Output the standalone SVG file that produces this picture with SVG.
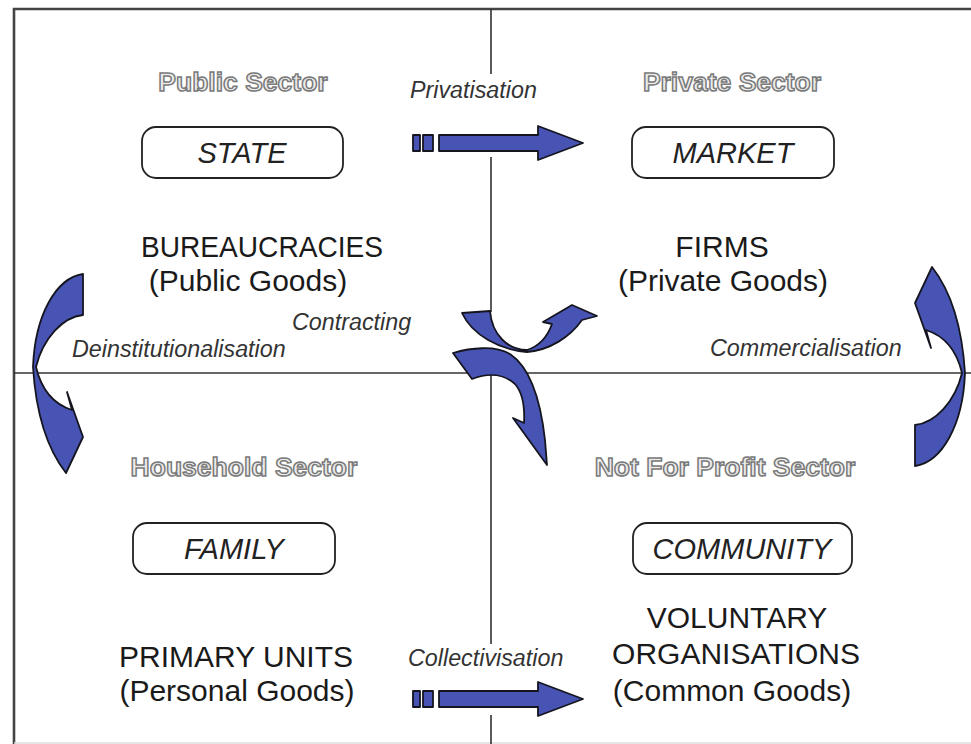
<svg xmlns="http://www.w3.org/2000/svg" xmlns:xlink="http://www.w3.org/1999/xlink" width="971" height="744" viewBox="0 0 971 744">
  <style>
    .frame { fill: none; stroke: #444; stroke-width: 2.6; }
    .axis { fill: none; stroke: #333; stroke-width: 1.6; }
    .sector { font-family: "Liberation Sans", Arial, sans-serif; font-weight: bold; font-size: 26.5px; fill: #ececec; stroke: #7a7a7a; stroke-width: 1.5; text-anchor: middle; }
    .box { fill: #fff; stroke: #222; stroke-width: 1.8; }
    .boxlabel { font-family: "Liberation Sans", Arial, sans-serif; font-style: italic; font-size: 29px; fill: #222; text-anchor: middle; }
    .label { font-family: "Liberation Sans", Arial, sans-serif; font-size: 30px; fill: #1a1a1a; text-anchor: middle; }
    .flow { font-family: "Liberation Sans", Arial, sans-serif; font-style: italic; font-size: 23.3px; fill: #333; }
    .arrow { fill: #4854b4; stroke: #15151f; stroke-width: 1.8; stroke-linejoin: round; }
  </style>
  <defs>
    <!-- straight block arrow with two tail ticks -->
    <g id="block-arrow">
      <rect class="arrow" x="0" y="0" width="7" height="16"/>
      <rect class="arrow" x="10" y="0" width="10" height="16"/>
      <path class="arrow" d="M26,0 H125 V-9 L170,8 L125,25 V16 H26 Z"/>
    </g>
    <!-- twisted ribbon arrow, tail at bottom, head at top -->
    <path id="ribbon-arrow" class="arrow" d="M915,425 C935,423 955,402 962,373 C957,352 945,336 926,330 L931,348 L915,303 L932,267 C950,290 962,325 965,373 C963,425 942,462 915,466 Z"/>
  </defs>

  <!-- frame and quadrant axes -->
  <g id="frame">
    <path class="frame" d="M14,744 V9 H971"/>
    <line x1="14" y1="743" x2="971" y2="743" stroke="#ddd" stroke-width="1.5"/>
  </g>
  <g id="axes">
    <line class="axis" x1="14" y1="373" x2="971" y2="373"/>
    <path class="axis" d="M491,9 V74 M491,157 V312 M491,375 V644 M491,715 V744"/>
  </g>

  <!-- quadrant: public sector -->
  <g id="public-sector">
    <text class="sector" x="243" y="91">Public Sector</text>
    <rect class="box" x="142" y="127" width="201" height="51" rx="14"/>
    <text class="boxlabel" x="242" y="163">STATE</text>
    <text class="label" x="262" y="257" textLength="242" lengthAdjust="spacingAndGlyphs">BUREAUCRACIES</text>
    <text class="label" x="248" y="291">(Public Goods)</text>
  </g>

  <!-- quadrant: private sector -->
  <g id="private-sector">
    <text class="sector" x="732" y="91">Private Sector</text>
    <rect class="box" x="632" y="127" width="202" height="51" rx="14"/>
    <text class="boxlabel" x="733" y="163">MARKET</text>
    <text class="label" x="722" y="257">FIRMS</text>
    <text class="label" x="723" y="291">(Private Goods)</text>
  </g>

  <!-- quadrant: household sector -->
  <g id="household-sector">
    <text class="sector" x="244" y="476">Household Sector</text>
    <rect class="box" x="133" y="523" width="202" height="51" rx="14"/>
    <text class="boxlabel" x="234" y="559">FAMILY</text>
    <text class="label" x="236" y="667">PRIMARY UNITS</text>
    <text class="label" x="237" y="701">(Personal Goods)</text>
  </g>

  <!-- quadrant: not for profit sector -->
  <g id="nonprofit-sector">
    <text class="sector" x="725" y="476">Not For Profit Sector</text>
    <rect class="box" x="633" y="523" width="219" height="51" rx="14"/>
    <text class="boxlabel" x="742" y="559">COMMUNITY</text>
    <text class="label" x="737" y="628">VOLUNTARY</text>
    <text class="label" x="736" y="664">ORGANISATIONS</text>
    <text class="label" x="732" y="701">(Common Goods)</text>
  </g>

  <!-- flows between sectors -->
  <g id="connectors">
    <g id="privatisation">
      <text class="flow" x="410" y="98">Privatisation</text>
      <use xlink:href="#block-arrow" transform="translate(413,135)"/>
    </g>
    <g id="collectivisation">
      <text class="flow" x="408" y="666">Collectivisation</text>
      <use xlink:href="#block-arrow" transform="translate(413,691)"/>
    </g>
    <g id="commercialisation">
      <text class="flow" x="710" y="356">Commercialisation</text>
      <use xlink:href="#ribbon-arrow"/>
    </g>
    <g id="deinstitutionalisation">
      <text class="flow" x="72" y="357">Deinstitutionalisation</text>
      <use xlink:href="#ribbon-arrow" transform="rotate(180 499 370)"/>
    </g>
    <g id="contracting">
      <text class="flow" x="292" y="330">Contracting</text>
      <path class="arrow" d="M462,313 L490,311 C492,335 508,350 527,350 C540,346 548,335 552,324 L543,322 L572,305 L597,316 L582,320 C570,337 550,350 527,352 C500,350 472,335 462,313 Z"/>
      <path class="arrow" d="M453,353 C470,348 495,345 510,354 C528,366 540,395 545,440 L547,465 L513,418 L524,423 C525,405 522,392 515,384 C505,375 490,372 472,379 Z"/>
    </g>
  </g>
</svg>
